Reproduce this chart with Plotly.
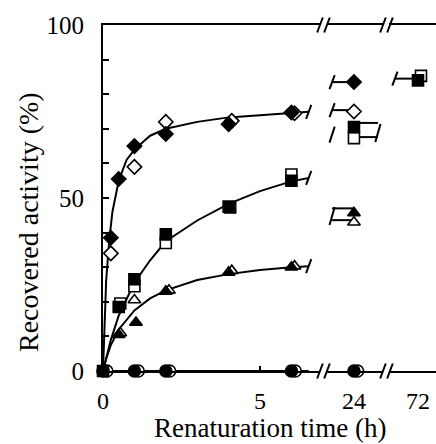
import plotly.graph_objects as go

# ---------------- data ----------------
# main section (0-6.5 h)
dia_f_x = [0.25, 0.5, 1, 2, 4, 6]
dia_f_y = [38.5, 55.5, 65, 68.5, 71.3, 74.7]
dia_o_x = [0.25, 1, 2, 4.1, 6.1]
dia_o_y = [34, 59, 72, 72.3, 74.5]
sq_f_x = [0, 0.5, 1, 2, 4, 6]
sq_f_y = [0, 18.5, 26.5, 39.5, 47.5, 55]
sq_o_x = [0.55, 1, 2, 4.05, 6]
sq_o_y = [19.5, 24.5, 37, 47.3, 56.8]
tri_f_x = [0.5, 1.05, 2, 4, 6]
tri_f_y = [10.5, 14, 23, 28.5, 30]
tri_o_x = [0.55, 1, 2.1, 4.1, 6.1]
tri_o_y = [11, 20.5, 23.3, 29, 30.3]
cir_f_x = [0, 1, 2, 6]
cir_f_y = [0, 0, 0, 0]
cir_o_x = [0.12, 1.12, 2.12, 6.12]
cir_o_y = [0, 0, 0, 0]

# fitted curves
dia_curve_x = [0, 0.05, 0.1, 0.2, 0.3, 0.5, 0.75, 1, 1.5, 2, 3, 4, 5, 6, 6.55]
dia_curve_y = [0, 15, 26, 38, 46, 55, 61, 64, 68, 70, 72, 73.3, 74, 74.6, 74.9]
sq_curve_x = [0, 0.25, 0.5, 1, 1.5, 2, 3, 4, 5, 6, 6.55]
sq_curve_y = [0, 9, 16, 25.5, 32, 37.5, 43.5, 48.3, 52, 54.8, 55.8]
tri_curve_x = [0, 0.1, 0.25, 0.5, 1, 1.5, 2, 3, 4, 5, 6, 6.55]
tri_curve_y = [0, 3.5, 7.5, 12, 17.5, 21, 23.3, 26.3, 28, 29.2, 30, 30.3]
cir_curve_x = [0, 6.55]
cir_curve_y = [0, 0]

# 24 h section
t24 = [24]
dia_f_24 = [83.5]
dia_o_24 = [75]
sq_f_24 = [70.5]
sq_o_24 = [67.3]
tri_f_24 = [45.7]
tri_o_24 = [43]
cir_24 = [0]
# 72 h section
t72 = [72]
t72_o = [72.1]
sq_f_72 = [84]
sq_o_72 = [85.3]

# curve stubs around the broken sections
stub24_in_x = [23.27, 24]
stub24_out_x = [24, 24.8]
stub72_in_x = [71.23, 72]

x_tickvals_main = [0, 5]
x_ticktext_main = ["0", "5"]
y_tickvals = [0, 10, 20, 30, 40, 50, 60, 70, 80, 90, 100]
y_ticktext = ["0", "", "", "", "", "50", "", "", "", "", "100"]

# ---------------- figure ----------------
FONT = "Liberation Serif"
BLACK = "#000000"
fig = go.Figure()

def line(x, y, xa="x"):
    fig.add_trace(go.Scatter(x=x, y=y, mode="lines", xaxis=xa, yaxis="y",
                             line=dict(color=BLACK, width=2), showlegend=False,
                             hoverinfo="skip", cliponaxis=False))

def marks(x, y, symbol, filled, size, xa="x"):
    fig.add_trace(go.Scatter(
        x=x, y=y, mode="markers", xaxis=xa, yaxis="y", showlegend=False,
        cliponaxis=False,
        marker=dict(symbol=symbol, size=size,
                    color=BLACK if filled else "white",
                    line=dict(color=BLACK, width=1.6))))

# curves
line(dia_curve_x, dia_curve_y)
line(sq_curve_x, sq_curve_y)
line(tri_curve_x, tri_curve_y)
line(cir_curve_x, cir_curve_y)

# stubs in the 24 h and 72 h sections
line(stub24_in_x, dia_f_24 * 2, "x2")
line(stub24_in_x, [dia_o_24[0] + 0.4] * 2, "x2")
line(stub24_out_x, [sq_f_24[0] + 1.2] * 2, "x2")
line(stub24_out_x, [sq_o_24[0] + 0.3] * 2, "x2")
line(stub24_in_x, [tri_f_24[0] + 1.3] * 2, "x2")
line(stub24_in_x, [tri_o_24[0] + 0.6] * 2, "x2")
line(stub72_in_x, [sq_f_72[0] + 0.5] * 2, "x3")

# markers - main
marks(cir_o_x, cir_o_y, "circle", False, 12)
marks(cir_f_x, cir_f_y, "circle", True, 12)
marks(dia_o_x, dia_o_y, "diamond", False, 11)
marks(dia_f_x, dia_f_y, "diamond", True, 11)
marks(sq_o_x, sq_o_y, "square", False, 11)
marks(sq_f_x, sq_f_y, "square", True, 11)
marks(tri_o_x, tri_o_y, "triangle-up", False, 11)
marks(tri_f_x, tri_f_y, "triangle-up", True, 11)

# markers - 24 h
marks([24.12], cir_24, "circle", False, 12, "x2")
marks(t24, cir_24, "circle", True, 12, "x2")
marks(t24, dia_o_24, "diamond", False, 11, "x2")
marks(t24, dia_f_24, "diamond", True, 11, "x2")
marks(t24, sq_o_24, "square", False, 11, "x2")
marks(t24, sq_f_24, "square", True, 11, "x2")
marks(t24, tri_o_24, "triangle-up", False, 11, "x2")
marks(t24, tri_f_24, "triangle-up", True, 11, "x2")

# markers - 72 h
marks(t72_o, sq_o_72, "square", False, 11, "x3")
marks(t72, sq_f_72, "square", True, 11, "x3")

# ---------------- slash marks ----------------
shapes = []

def slash(xref, x, y, yref="y", h=7, w=2.6):
    shapes.append(dict(type="line", xref=xref, yref=yref,
                       xsizemode="pixel", ysizemode="pixel",
                       xanchor=x, yanchor=y, x0=-w, x1=w, y0=-h, y1=h,
                       line=dict(color=BLACK, width=2)))

# curve-end slashes in the main section
slash("x", 6.55, dia_curve_y[-1])
slash("x", 6.55, sq_curve_y[-1])
slash("x", 6.55, tri_curve_y[-1])
# 24 h section
slash("x2", 23.27, dia_f_24[0])
slash("x2", 23.27, dia_o_24[0] + 0.4)
slash("x2", 23.27, sq_o_24[0] + 1.0, h=8)
slash("x2", 24.8, sq_o_24[0] + 1.5, h=9)
slash("x2", 23.27, tri_o_24[0] + 1.8, h=9)
# 72 h section
slash("x3", 71.23, sq_f_72[0] + 0.5)

# axis break marks (top and bottom)
PL, PW = 103, 333
for px in (320, 327, 383, 390):
    for yy in (0, 1):
        slash("paper", (px - PL) / PW, yy, yref="paper", h=7.5, w=2.8)

axis_common = dict(showline=True, linecolor=BLACK, linewidth=2, mirror=True,
                   showgrid=False, zeroline=False, ticks="inside", ticklen=5,
                   tickwidth=1.5, tickcolor=BLACK, automargin=False,
                   tickfont=dict(family=FONT, size=24, color=BLACK),
                   ticklabelstandoff=7, anchor="y")

fig.update_layout(
    width=436, height=444,
    margin=dict(l=103, r=0, t=25, b=73, autoexpand=False),
    paper_bgcolor="white", plot_bgcolor="white",
    showlegend=False,
    xaxis=dict(domain=[0, 217 / 333], range=[0, 6.91],
               tickvals=x_tickvals_main, ticktext=x_ticktext_main, **axis_common),
    xaxis2=dict(domain=[224 / 333, 280 / 333], range=[23.1, 24.97],
                tickvals=[24], ticktext=["24"], **{**axis_common, "ticks": ""}),
    xaxis3=dict(domain=[286 / 333, 1], range=[71.033, 72.6],
                tickvals=[72], ticktext=["72"], **{**axis_common, "ticks": ""}),
    yaxis=dict(range=[0, 100], domain=[0, 1], anchor="x", automargin=False,
               showline=True, linecolor=BLACK, linewidth=2, mirror=False,
               showgrid=False, zeroline=False, ticks="inside", ticklen=6,
               tickwidth=1.5, tickcolor=BLACK,
               tickvals=y_tickvals, ticktext=y_ticktext,
               tickfont=dict(family=FONT, size=25, color=BLACK),
               ticklabelstandoff=12),
    shapes=shapes,
    annotations=[
        dict(text="Renaturation time (h)", xref="paper", yref="paper",
             x=(270 - PL) / PW, y=(371 - 444) / 346, showarrow=False,
             xanchor="center", yanchor="bottom", borderpad=0,
             font=dict(family=FONT, size=27, color=BLACK)),
        dict(text="Recovered activity (%)", xref="paper", yref="paper",
             x=(28 - PL) / PW, y=(371 - 222) / 346, showarrow=False,
             textangle=-90, xanchor="center", yanchor="middle",
             font=dict(family=FONT, size=28, color=BLACK)),
    ],
)

fig.write_html("out.html", config={"displayModeBar": False},
               post_script="document.body.style.margin='0';document.body.style.padding='0';")
